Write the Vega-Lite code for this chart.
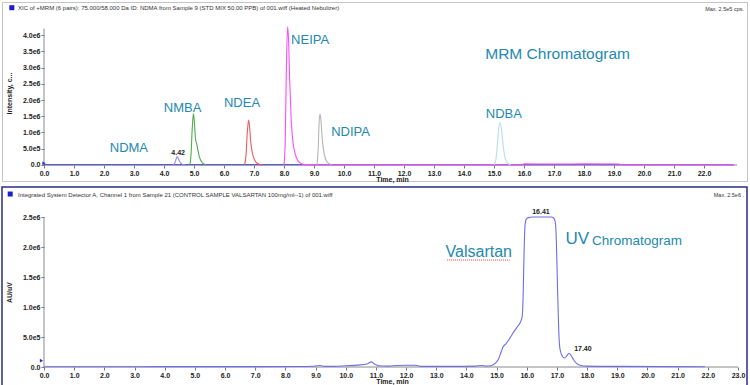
{
  "$schema": "https://vega.github.io/schema/vega-lite/v6.json",
  "padding": {"left": 1, "top": 1, "right": 3, "bottom": 1},
  "background": "white",
  "spacing": 3,
  "config": {
    "font": "Liberation Sans",
    "axis": {
      "labelFont": "Liberation Sans", "labelFontSize": 7, "labelFontWeight": "bold", "labelColor": "#222222",
      "tickColor": "#777777", "tickSize": 3, "domain": false, "grid": false, "labelPadding": 1,
      "titleFont": "Liberation Sans", "titleFontSize": 7, "titleFontWeight": "bold", "titleColor": "#222222"
    }
  },
  "datasets": {
    "mrmFrame": [
      {"t": 0, "t2": 23.1, "v": 0, "v2": 0},
      {"t": 0, "t2": 0, "v": 0, "v2": 4200000}
    ],
    "uvFrame": [
      {"t": 0, "t2": 23.0, "v": 0, "v2": 0},
      {"t": 0, "t2": 0, "v": 0, "v2": 2500000}
    ],
    "mrm": [
      {"series": "baseline", "t": 0, "v": 6000}, {"series": "baseline", "t": 4, "v": 6000}, {"series": "baseline", "t": 8, "v": 6000},
      {"series": "baseline", "t": 12, "v": 6000}, {"series": "baseline", "t": 16, "v": 6000}, {"series": "baseline", "t": 20, "v": 6000},
      {"series": "baseline", "t": 23.0, "v": 6000},
      {"series": "NDMA", "t": 4.30, "v": 5000}, {"series": "NDMA", "t": 4.36, "v": 60000}, {"series": "NDMA", "t": 4.41, "v": 200000},
      {"series": "NDMA", "t": 4.44, "v": 260000}, {"series": "NDMA", "t": 4.48, "v": 190000}, {"series": "NDMA", "t": 4.53, "v": 90000},
      {"series": "NDMA", "t": 4.59, "v": 35000}, {"series": "NDMA", "t": 4.66, "v": 10000}, {"series": "NDMA", "t": 4.72, "v": 5000},
      {"series": "NMBA", "t": 4.86, "v": 5000}, {"series": "NMBA", "t": 4.90, "v": 300000}, {"series": "NMBA", "t": 4.94, "v": 1100000},
      {"series": "NMBA", "t": 4.98, "v": 1580000}, {"series": "NMBA", "t": 5.01, "v": 1350000}, {"series": "NMBA", "t": 5.05, "v": 800000},
      {"series": "NMBA", "t": 5.09, "v": 650000}, {"series": "NMBA", "t": 5.13, "v": 460000}, {"series": "NMBA", "t": 5.18, "v": 250000},
      {"series": "NMBA", "t": 5.25, "v": 100000}, {"series": "NMBA", "t": 5.33, "v": 30000}, {"series": "NMBA", "t": 5.42, "v": 8000},
      {"series": "NDEA", "t": 6.68, "v": 5000}, {"series": "NDEA", "t": 6.73, "v": 250000}, {"series": "NDEA", "t": 6.77, "v": 900000},
      {"series": "NDEA", "t": 6.82, "v": 1380000}, {"series": "NDEA", "t": 6.85, "v": 1200000}, {"series": "NDEA", "t": 6.89, "v": 720000},
      {"series": "NDEA", "t": 6.94, "v": 400000}, {"series": "NDEA", "t": 7.00, "v": 200000}, {"series": "NDEA", "t": 7.08, "v": 70000},
      {"series": "NDEA", "t": 7.18, "v": 20000}, {"series": "NDEA", "t": 7.28, "v": 6000},
      {"series": "NEIPA", "t": 8.00, "v": 5000}, {"series": "NEIPA", "t": 8.04, "v": 700000}, {"series": "NEIPA", "t": 8.08, "v": 3000000},
      {"series": "NEIPA", "t": 8.12, "v": 4250000}, {"series": "NEIPA", "t": 8.15, "v": 3900000}, {"series": "NEIPA", "t": 8.19, "v": 2600000},
      {"series": "NEIPA", "t": 8.24, "v": 1400000}, {"series": "NEIPA", "t": 8.30, "v": 700000}, {"series": "NEIPA", "t": 8.37, "v": 350000},
      {"series": "NEIPA", "t": 8.47, "v": 120000}, {"series": "NEIPA", "t": 8.58, "v": 40000}, {"series": "NEIPA", "t": 8.72, "v": 12000},
      {"series": "NEIPA", "t": 9.0, "v": 9000}, {"series": "NEIPA", "t": 12.0, "v": 9000}, {"series": "NEIPA", "t": 15.95, "v": 10000},
      {"series": "NEIPA", "t": 16.0, "v": 35000}, {"series": "NEIPA", "t": 17.0, "v": 30000}, {"series": "NEIPA", "t": 18.0, "v": 35000},
      {"series": "NEIPA", "t": 19.15, "v": 30000}, {"series": "NEIPA", "t": 19.25, "v": 9000}, {"series": "NEIPA", "t": 23.0, "v": 8000},
      {"series": "NDIPA", "t": 9.10, "v": 5000}, {"series": "NDIPA", "t": 9.14, "v": 500000}, {"series": "NDIPA", "t": 9.17, "v": 1300000},
      {"series": "NDIPA", "t": 9.20, "v": 1570000}, {"series": "NDIPA", "t": 9.23, "v": 1400000}, {"series": "NDIPA", "t": 9.27, "v": 850000},
      {"series": "NDIPA", "t": 9.32, "v": 450000}, {"series": "NDIPA", "t": 9.38, "v": 200000}, {"series": "NDIPA", "t": 9.46, "v": 70000},
      {"series": "NDIPA", "t": 9.58, "v": 12000},
      {"series": "NDBA", "t": 15.00, "v": 5000}, {"series": "NDBA", "t": 15.06, "v": 150000}, {"series": "NDBA", "t": 15.11, "v": 600000},
      {"series": "NDBA", "t": 15.16, "v": 1150000}, {"series": "NDBA", "t": 15.20, "v": 1300000}, {"series": "NDBA", "t": 15.25, "v": 1100000},
      {"series": "NDBA", "t": 15.30, "v": 650000}, {"series": "NDBA", "t": 15.35, "v": 300000}, {"series": "NDBA", "t": 15.42, "v": 100000},
      {"series": "NDBA", "t": 15.50, "v": 20000}, {"series": "NDBA", "t": 15.56, "v": 5000}
    ],
    "uv": [
      {"t": 0.0, "v": 5000}, {"t": 3.2, "v": 5000}, {"t": 4.4, "v": 6000}, {"t": 6.0, "v": 6000}, {"t": 8.5, "v": 8000},
      {"t": 8.9, "v": 12000}, {"t": 9.05, "v": 22000}, {"t": 9.15, "v": 25000}, {"t": 9.3, "v": 10000}, {"t": 9.6, "v": 10000},
      {"t": 10.0, "v": 20000}, {"t": 10.4, "v": 32000}, {"t": 10.7, "v": 50000}, {"t": 10.85, "v": 85000}, {"t": 10.95, "v": 50000},
      {"t": 11.1, "v": 20000}, {"t": 11.4, "v": 15000}, {"t": 11.7, "v": 25000}, {"t": 12.0, "v": 30000}, {"t": 12.3, "v": 30000},
      {"t": 12.5, "v": 10000}, {"t": 13.5, "v": 10000}, {"t": 14.3, "v": 15000}, {"t": 14.5, "v": 25000}, {"t": 14.65, "v": 15000},
      {"t": 14.8, "v": 20000}, {"t": 14.95, "v": 60000}, {"t": 15.05, "v": 120000}, {"t": 15.15, "v": 250000}, {"t": 15.22, "v": 340000},
      {"t": 15.3, "v": 380000}, {"t": 15.4, "v": 450000}, {"t": 15.5, "v": 530000}, {"t": 15.6, "v": 610000}, {"t": 15.7, "v": 680000},
      {"t": 15.8, "v": 760000}, {"t": 15.85, "v": 850000}, {"t": 15.88, "v": 1200000}, {"t": 15.91, "v": 1900000}, {"t": 15.94, "v": 2350000},
      {"t": 15.98, "v": 2460000}, {"t": 16.05, "v": 2490000}, {"t": 16.2, "v": 2500000}, {"t": 16.5, "v": 2500000}, {"t": 16.8, "v": 2500000},
      {"t": 16.9, "v": 2480000}, {"t": 16.95, "v": 2400000}, {"t": 16.98, "v": 2100000}, {"t": 17.02, "v": 1300000}, {"t": 17.06, "v": 600000},
      {"t": 17.1, "v": 300000}, {"t": 17.18, "v": 180000}, {"t": 17.25, "v": 150000}, {"t": 17.33, "v": 190000}, {"t": 17.4, "v": 230000},
      {"t": 17.46, "v": 200000}, {"t": 17.55, "v": 120000}, {"t": 17.65, "v": 60000}, {"t": 17.8, "v": 25000}, {"t": 18.0, "v": 15000},
      {"t": 19.0, "v": 10000}, {"t": 21.9, "v": 5000}
    ],
    "mrmText": [
      {"kind": "icon", "label": "", "t": -1.073, "v": 4840000},
      {"kind": "marker", "label": "", "t": 0, "v": 50000},
      {"kind": "header", "label": "XIC of +MRM (6 pairs): 75.000/58.000 Da ID: NDMA from Sample 9 (STD MIX 50.00 PPB) of 001.wiff (Heated Nebulizer)", "t": -0.867, "v": 4826000},
      {"kind": "max", "label": "Max. 2.5e5 cps.", "t": 23.333, "v": 4800000},
      {"kind": "compound", "label": "NDMA", "t": 2.83, "v": 523000},
      {"kind": "compound", "label": "NMBA", "t": 4.62, "v": 1745000},
      {"kind": "compound", "label": "NDEA", "t": 6.6, "v": 1917000},
      {"kind": "compound", "label": "NEIPA", "t": 8.87, "v": 3846000},
      {"kind": "compound", "label": "NDIPA", "t": 10.22, "v": 1025000},
      {"kind": "compound", "label": "NDBA", "t": 15.33, "v": 1560000},
      {"kind": "big", "label": "MRM Chromatogram", "t": 17.12, "v": 3406000},
      {"kind": "peak", "label": "4.42", "t": 4.47, "v": 370000}
    ],
    "uvText": [
      {"kind": "icon", "label": "", "t": -1.12, "v": 2883000},
      {"kind": "marker", "label": "", "t": -0.083, "v": 105000},
      {"kind": "header", "label": "Integrated System Detector A, Channel 1 from Sample 21 (CONTROL SAMPLE VALSARTAN 100mg/ml--1) of 001.wiff", "t": -0.862, "v": 2867000},
      {"kind": "max", "label": "Max. 2.5e6 .", "t": 23.2, "v": 2867000},
      {"kind": "compound", "label": "Valsartan", "t": 14.41, "v": 1912000},
      {"kind": "uv", "label": "UV", "t": 17.28, "v": 2133000},
      {"kind": "chrom", "label": "Chromatogram", "t": 18.16, "v": 2100000},
      {"kind": "peak", "label": "16.41", "t": 16.47, "v": 2588000},
      {"kind": "peak", "label": "17.40", "t": 17.86, "v": 300000}
    ],
    "squiggle": [
      {"t": 13.36, "t2": 15.44, "v": 1783000}
    ]
  },
  "vconcat": [
    {
      "width": 745,
      "height": 179,
      "view": {"stroke": "#c4c4c4", "strokeWidth": 1},
      "encoding": {
        "x": {"field": "t", "type": "quantitative",
          "scale": {"domain": [-1.4, 23.4333], "nice": false, "zero": false},
          "axis": {"title": "Time, min", "offset": -16, "values": [0,1,2,3,4,5,6,7,8,9,10,11,12,13,14,15,16,17,18,19,20,21,22],
            "format": ".1f", "labelFlush": false, "labelOverlap": false, "titleX": 390, "titleY": 14, "titleBaseline": "middle"}},
        "y": {"field": "v", "type": "quantitative",
          "scale": {"domain": [-492308, 5015385], "nice": false, "zero": false},
          "axis": {"title": "Intensity, c...", "offset": -42, "values": [0, 500000, 1000000, 1500000, 2000000, 2500000, 3000000, 3500000, 4000000],
            "labelExpr": "datum.value == 0 ? '0.0' : format(datum.value / pow(10, floor(log(datum.value) / LN10 + 1e-9)), '.1f') + 'e' + floor(log(datum.value) / LN10 + 1e-9)",
            "labelFlush": false, "labelOverlap": false, "titleX": -35, "titleY": 91, "titleBaseline": "middle"}}
      },
      "layer": [
        {
          "data": {"name": "mrmFrame"},
          "mark": {"type": "rule", "color": "#8a8a8a", "strokeWidth": 1},
          "encoding": {"x2": {"field": "t2"}, "y2": {"field": "v2"}}
        },
        {
          "data": {"name": "mrm"},
          "mark": {"type": "line", "strokeWidth": 1.1, "interpolate": "monotone"},
          "encoding": {
            "color": {"field": "series", "type": "nominal",
              "scale": {"domain": ["baseline", "NDMA", "NMBA", "NDEA", "NEIPA", "NDIPA", "NDBA"],
                "range": ["#3b3bc4", "#8c8cff", "#4cae4c", "#f25a5a", "#ff4cff", "#b5b5b5", "#b9dcf0"]},
              "legend": null}
          }
        },
        {
          "data": {"name": "mrmText"},
          "transform": [{"filter": "datum.kind == 'icon'"}],
          "mark": {"type": "square", "filled": true, "color": "#1c1cd0", "size": 25, "opacity": 1}
        },
        {
          "data": {"name": "mrmText"},
          "transform": [{"filter": "datum.kind == 'marker'"}],
          "mark": {"type": "point", "shape": "triangle-right", "filled": true, "color": "#2a2ad0", "size": 14, "opacity": 1}
        },
        {
          "data": {"name": "mrmText"},
          "transform": [{"filter": "datum.kind == 'header'"}],
          "mark": {"type": "text", "align": "left", "baseline": "middle", "fontSize": 6, "color": "#333333"},
          "encoding": {"text": {"field": "label"}}
        },
        {
          "data": {"name": "mrmText"},
          "transform": [{"filter": "datum.kind == 'max'"}],
          "mark": {"type": "text", "align": "right", "baseline": "middle", "fontSize": 5.5, "color": "#333333"},
          "encoding": {"text": {"field": "label"}}
        },
        {
          "data": {"name": "mrmText"},
          "transform": [{"filter": "datum.kind == 'compound'"}],
          "mark": {"type": "text", "align": "center", "baseline": "middle", "fontSize": 13, "color": "#2389b0"},
          "encoding": {"text": {"field": "label"}}
        },
        {
          "data": {"name": "mrmText"},
          "transform": [{"filter": "datum.kind == 'big'"}],
          "mark": {"type": "text", "align": "center", "baseline": "middle", "fontSize": 15.5, "color": "#2389b0"},
          "encoding": {"text": {"field": "label"}}
        },
        {
          "data": {"name": "mrmText"},
          "transform": [{"filter": "datum.kind == 'peak'"}],
          "mark": {"type": "text", "align": "center", "baseline": "middle", "fontSize": 7, "fontWeight": "bold", "color": "#222222"},
          "encoding": {"text": {"field": "label"}}
        }
      ]
    },
    {
      "width": 745,
      "height": 200,
      "view": {"stroke": "#2c2c8c", "strokeWidth": 1.5},
      "encoding": {
        "x": {"field": "t", "type": "quantitative",
          "scale": {"domain": [-1.39193, 23.2983], "nice": false, "zero": false},
          "axis": {"title": "Time, min", "offset": -20, "values": [0,1,2,3,4,5,6,7,8,9,10,11,12,13,14,15,16,17,18,19,20,21,22,23],
            "format": ".1f", "labelFlush": false, "labelOverlap": false, "titleX": 390, "titleY": 14, "titleBaseline": "middle"}},
        "y": {"field": "v", "type": "quantitative",
          "scale": {"domain": [-333333, 3000000], "nice": false, "zero": false},
          "axis": {"title": "AU/uV", "offset": -42, "values": [0, 500000, 1000000, 1500000, 2000000, 2500000],
            "labelExpr": "datum.value == 0 ? '0.0' : format(datum.value / pow(10, floor(log(datum.value) / LN10 + 1e-9)), '.1f') + 'e' + floor(log(datum.value) / LN10 + 1e-9)",
            "labelFlush": false, "labelOverlap": false, "titleX": -35, "titleY": 105, "titleBaseline": "middle"}}
      },
      "layer": [
        {
          "data": {"name": "uvFrame"},
          "mark": {"type": "rule", "color": "#8a8a8a", "strokeWidth": 1},
          "encoding": {"x2": {"field": "t2"}, "y2": {"field": "v2"}}
        },
        {
          "data": {"name": "squiggle"},
          "mark": {"type": "rule", "color": "#e04040", "strokeWidth": 1, "strokeDash": [1, 1]},
          "encoding": {"x2": {"field": "t2"}}
        },
        {
          "data": {"name": "uv"},
          "mark": {"type": "line", "strokeWidth": 1.1, "color": "#6e6ee8", "interpolate": "monotone"}
        },
        {
          "data": {"name": "uvText"},
          "transform": [{"filter": "datum.kind == 'icon'"}],
          "mark": {"type": "square", "filled": true, "color": "#1c1cd0", "size": 25, "opacity": 1}
        },
        {
          "data": {"name": "uvText"},
          "transform": [{"filter": "datum.kind == 'marker'"}],
          "mark": {"type": "point", "shape": "triangle-right", "filled": true, "color": "#2a2ad0", "size": 14, "opacity": 1}
        },
        {
          "data": {"name": "uvText"},
          "transform": [{"filter": "datum.kind == 'header'"}],
          "mark": {"type": "text", "align": "left", "baseline": "middle", "fontSize": 6, "color": "#333333"},
          "encoding": {"text": {"field": "label"}}
        },
        {
          "data": {"name": "uvText"},
          "transform": [{"filter": "datum.kind == 'max'"}],
          "mark": {"type": "text", "align": "right", "baseline": "middle", "fontSize": 5.5, "color": "#333333"},
          "encoding": {"text": {"field": "label"}}
        },
        {
          "data": {"name": "uvText"},
          "transform": [{"filter": "datum.kind == 'compound'"}],
          "mark": {"type": "text", "align": "center", "baseline": "middle", "fontSize": 16, "color": "#2389b0"},
          "encoding": {"text": {"field": "label"}}
        },
        {
          "data": {"name": "uvText"},
          "transform": [{"filter": "datum.kind == 'uv'"}],
          "mark": {"type": "text", "align": "left", "baseline": "middle", "fontSize": 17, "color": "#2389b0"},
          "encoding": {"text": {"field": "label"}}
        },
        {
          "data": {"name": "uvText"},
          "transform": [{"filter": "datum.kind == 'chrom'"}],
          "mark": {"type": "text", "align": "left", "baseline": "middle", "fontSize": 13.5, "color": "#2389b0"},
          "encoding": {"text": {"field": "label"}}
        },
        {
          "data": {"name": "uvText"},
          "transform": [{"filter": "datum.kind == 'peak'"}],
          "mark": {"type": "text", "align": "center", "baseline": "middle", "fontSize": 7, "fontWeight": "bold", "color": "#222222"},
          "encoding": {"text": {"field": "label"}}
        }
      ]
    }
  ]
}
